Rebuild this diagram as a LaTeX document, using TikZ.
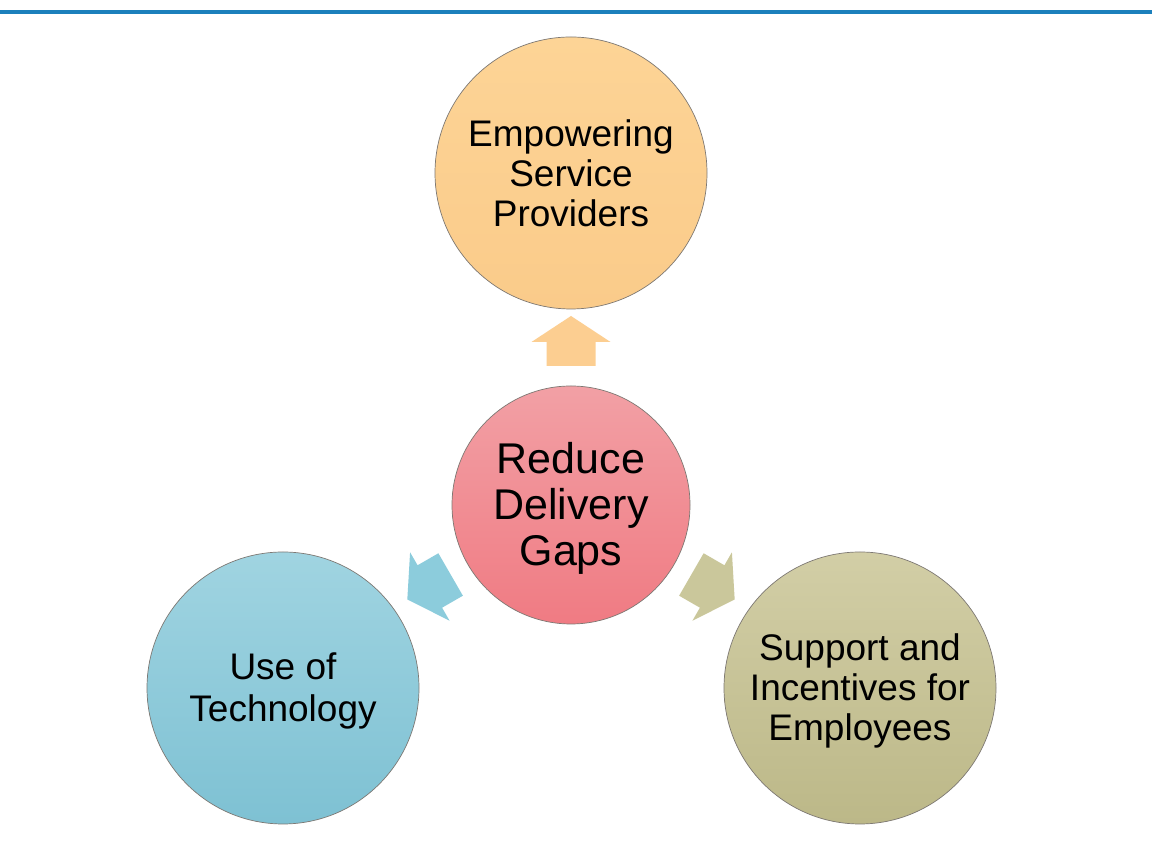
\documentclass[tikz,border=0pt]{standalone}
\usepackage{fontspec}
\setmainfont{Liberation Sans}
\definecolor{topA}{RGB}{253,212,150}
\definecolor{topB}{RGB}{250,203,138}
\definecolor{midA}{RGB}{242,160,165}
\definecolor{midB}{RGB}{240,123,131}
\definecolor{leftA}{RGB}{160,212,225}
\definecolor{leftB}{RGB}{126,193,211}
\definecolor{rightA}{RGB}{210,206,166}
\definecolor{rightB}{RGB}{188,184,136}
\definecolor{rimgray}{RGB}{125,120,115}
\definecolor{topline}{RGB}{28,128,188}
\definecolor{arrTop}{RGB}{252,206,145}
\definecolor{arrLeft}{RGB}{140,204,220}
\definecolor{arrRight}{RGB}{202,199,155}
\tikzset{
  bubble/.style={circle, draw=rimgray, line width=0.7pt, inner sep=0pt},
  bigbubble/.style={bubble, minimum size=272pt},
  midbubble/.style={bubble, minimum size=238pt},
  btext/.style={align=center, inner sep=0pt, font=\fontsize{37}{40}\selectfont},
}
\begin{document}
\begin{tikzpicture}[x=1pt,y=1pt]
\useasboundingbox (0,0) rectangle (1152,845);
\fill[white] (0,0) rectangle (1152,845);
\coordinate (lineL) at (0,833);
\coordinate (lineR) at (1152,833);
\draw[topline, line width=3.5pt] (lineL) -- (lineR);
% nodes
\node[midbubble, top color=midA, bottom color=midB,
  label={[btext, font=\fontsize{43}{46}\selectfont, yshift=-3pt]center:Reduce\\Delivery\\Gaps}] (mid) at (571,340) {};
\node[bigbubble, top color=topA, bottom color=topB,
  label={[btext, yshift=0pt]center:Empowering\\Service\\Providers}] (top) at (571,672) {};
\node[bigbubble, top color=leftA, bottom color=leftB,
  label={[btext, font=\fontsize{37}{42}\selectfont, yshift=-2.5pt]center:Use of\\Technology}] (left) at (283,157) {};
\node[bigbubble, top color=rightA, bottom color=rightB,
  label={[btext, yshift=-3pt]center:Support and\\Incentives for\\Employees}] (right) at (860,157) {};
% block arrows
\def\arrowpath{(-25,-24.5) -- (-1,-24.5) -- (-1,-39.5) -- (25,0) -- (-1,39.5) -- (-1,24.5) -- (-25,24.5) -- cycle}
\begin{scope}[shift={(mid.center)}, rotate=90, shift={(164,0)}]
  \fill[arrTop] \arrowpath;
\end{scope}
\begin{scope}[shift={(mid.center)}, rotate=210, shift={(164,0)}]
  \fill[arrLeft] \arrowpath;
\end{scope}
\begin{scope}[shift={(mid.center)}, rotate=330, shift={(164,0)}]
  \fill[arrRight] \arrowpath;
\end{scope}
\end{tikzpicture}
\end{document}
